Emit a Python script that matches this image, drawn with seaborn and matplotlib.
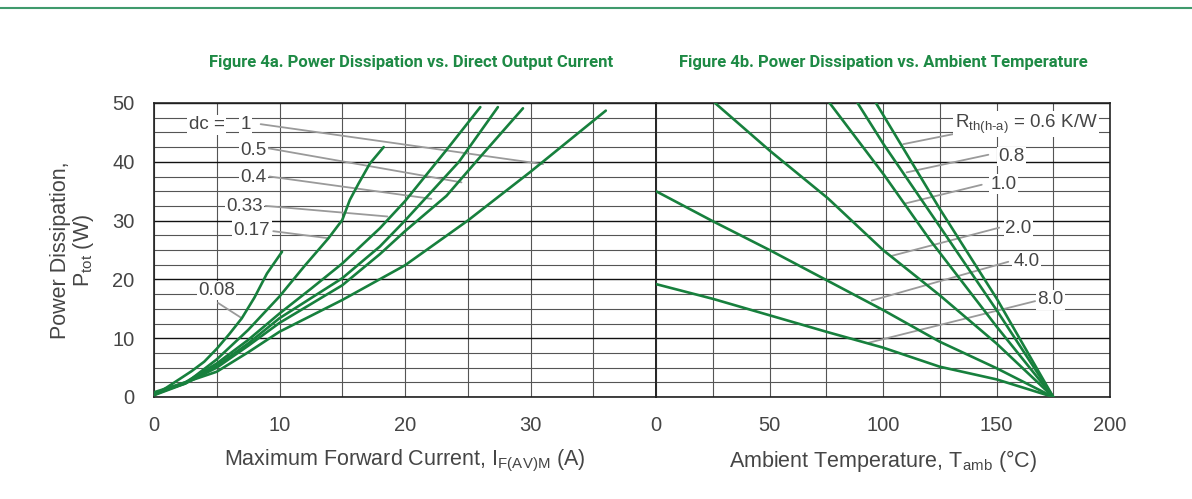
import numpy as np
import pandas as pd
import matplotlib
matplotlib.use("Agg")
import matplotlib.pyplot as plt
import seaborn as sns
from matplotlib.lines import Line2D

# ---------------- Figure 4a: P_tot (W) vs I_F(AV)M (A), per duty cycle ----------------
dc_labels = ["0.08", "0.17", "0.33", "0.4", "0.5", "1"]
i_008 = [0, 1, 2, 3, 4, 5, 6, 7, 8, 9, 10.2]
p_008 = [0.3, 1.6, 3.0, 4.4, 6.0, 8.2, 10.7, 13.4, 16.9, 21.0, 24.7]
i_017 = [0, 2.5, 5, 7.5, 10, 12, 13.9, 15, 15.6, 16.3, 17.2, 18.3]
p_017 = [0.3, 2.3, 6.4, 11.4, 17.1, 22.3, 27.0, 30.1, 33.5, 36.3, 39.7, 42.5]
i_033 = [0, 2.5, 5, 7.5, 10, 12.5, 15, 18, 20, 23.3, 26]
p_033 = [0.5, 2.5, 5.7, 9.7, 14.2, 18.4, 22.7, 28.7, 33.3, 42.0, 49.3]
i_04 = [0, 2.5, 5, 7.5, 10, 12.5, 15, 18, 20, 24.3, 27.4]
p_04 = [0.4, 2.4, 5.3, 9.1, 13.4, 16.8, 20.2, 25.6, 30.0, 40.0, 49.3]
i_05 = [0, 2.5, 5, 7.5, 10, 12.5, 15, 18, 20, 23.3, 25.9, 29.4]
p_05 = [0.6, 2.3, 5.0, 8.7, 12.6, 15.8, 19.0, 24.3, 28.2, 34.2, 40.6, 49.1]
i_1 = [0, 2.5, 5, 7.5, 10, 15, 20, 25, 30, 36]
p_1 = [0.8, 2.5, 4.3, 7.6, 11.1, 16.5, 22.4, 30.0, 38.3, 48.7]

# ---------------- Figure 4b: P_tot (W) vs T_amb (degC), per R_th(h-a) ----------------
rth_labels = ["0.6", "0.8", "1.0", "2.0", "4.0", "8.0"]
t_06 = [96.9, 125, 150, 175]
p_06 = [50, 32.0, 16.8, 0]
t_08 = [88.8, 100.4, 125, 150, 175]
p_08 = [50, 42.9, 29.0, 14.8, 0]
t_10 = [76.5, 100.4, 120.7, 150, 175]
p_10 = [50, 37.8, 26.7, 12.0, 0]
t_20 = [26, 50.4, 75.7, 100, 125, 150, 175]
p_20 = [50, 41.8, 33.8, 25.0, 17.3, 9.1, 0]
t_40 = [0, 25, 50, 75, 100, 125, 150, 175]
p_40 = [35, 29.9, 25.0, 19.9, 14.8, 9.4, 4.9, 0]
t_80 = [0, 25, 50, 75, 100, 125, 150, 175]
p_80 = [19.2, 16.7, 13.9, 11.1, 8.4, 5.15, 3.0, 0]

# tick labels
y_ticks = [0, 10, 20, 30, 40, 50]
xa_ticks = [0, 10, 20, 30]
xb_ticks = [0, 50, 100, 150, 200]

left_curves = list(zip(dc_labels, [i_008, i_017, i_033, i_04, i_05, i_1],
                       [p_008, p_017, p_033, p_04, p_05, p_1]))
right_curves = list(zip(rth_labels, [t_06, t_08, t_10, t_20, t_40, t_80],
                        [p_06, p_08, p_10, p_20, p_40, p_80]))

df_a = pd.concat([pd.DataFrame({"x": x, "y": y, "s": lab}) for lab, x, y in left_curves])
df_b = pd.concat([pd.DataFrame({"x": x, "y": y, "s": lab}) for lab, x, y in right_curves])

sns.set_theme(style="white")
FONT = ["Liberation Sans", "DejaVu Sans"]
plt.rcParams["font.family"] = FONT
plt.rcParams["mathtext.default"] = "regular"

GREEN = "#17803d"
TXT = "#454545"
LEAD = "#9a9a9a"

fig = plt.figure(figsize=(11.92, 4.99), dpi=100)
bottom = 1 - 397 / 499
height = 294 / 499
ax1 = fig.add_axes([154 / 1192, bottom, 502 / 1192, height])
ax2 = fig.add_axes([656 / 1192, bottom, 454 / 1192, height])

for ax, df in [(ax1, df_a), (ax2, df_b)]:
    sns.lineplot(data=df, x="x", y="y", units="s", estimator=None, sort=False,
                 color=GREEN, lw=1.9, ax=ax, zorder=5, legend=False)

def style(ax, xmax, xstep, xticks, showy):
    ax.set_xlim(0, xmax)
    ax.set_ylim(0, 50)
    ax.set_xticks(xticks)
    ax.set_xticks(np.arange(0, xmax + 0.01, xstep), minor=True)
    ax.set_yticks(y_ticks)
    ax.set_yticks(np.arange(0, 50.01, 2.5), minor=True)
    ax.grid(which="minor", color="#555555", lw=0.8, zorder=0)
    ax.grid(which="major", axis="y", color="#111111", lw=1.0, zorder=0)
    ax.grid(which="major", axis="x", color="#555555", lw=0.8, zorder=0)
    ax.set_axisbelow(True)
    ax.tick_params(which="both", length=0)
    ax.tick_params(axis="x", pad=14, labelsize=14.5, labelcolor=TXT)
    ax.tick_params(axis="y", pad=14, labelsize=14.5, labelcolor=TXT)
    if not showy:
        ax.set_yticklabels([])
    for sp in ax.spines.values():
        sp.set_visible(True)
        sp.set_color("#222222")
        sp.set_linewidth(1.2)
    ax.set_xlabel("")
    ax.set_ylabel("")

style(ax1, 40, 5, xa_ticks, True)
style(ax2, 200, 25, xb_ticks, False)

ax1.set_xlabel("Maximum Forward Current, I$_{F(AV)M}$ (A)", fontsize=15.5,
               color=TXT, labelpad=9)
ax2.set_xlabel("Ambient Temperature, T$_{amb}$ (°C)", fontsize=15.5,
               color=TXT, labelpad=9)
ax1.set_ylabel("Power Dissipation,\nP$_{tot}$ (W)", fontsize=15.5, color=TXT,
               labelpad=12, linespacing=1.0)

box = dict(fc="white", ec="none", pad=1.0)

def leader(ax, p0, p1):
    ax.plot([p0[0], p1[0]], [p0[1], p1[1]], color=LEAD, lw=1.3, zorder=3)

def label(ax, x, y, s, ha="center"):
    ax.text(x, y, s, ha=ha, va="center", fontsize=13.5, color=TXT,
            bbox=box, zorder=4)

# Figure 4a annotations
label(ax1, 4.2, 46.3, "dc =")
label(ax1, 7.3, 46.4, dc_labels[5])
leader(ax1, (8.5, 46.4), (31.0, 39.6))
label(ax1, 7.9, 42.0, dc_labels[4])
leader(ax1, (9.1, 42.3), (24.5, 36.5))
label(ax1, 7.9, 37.3, dc_labels[3])
leader(ax1, (9.2, 37.5), (22.1, 33.7))
label(ax1, 7.2, 32.4, dc_labels[2])
leader(ax1, (8.9, 32.5), (18.6, 30.7))
label(ax1, 7.8, 28.4, dc_labels[1])
leader(ax1, (9.5, 28.2), (13.9, 27.0))
label(ax1, 5.0, 18.1, dc_labels[0])
leader(ax1, (5.1, 16.0), (7.0, 13.4))

# Figure 4b annotations
leader(ax2, (134.7, 45.0), (108.9, 43.0))
label(ax2, 131.5, 46.4, "R$_{th(h\u2010a)}$ = " + rth_labels[0] + " K/W", ha="left")
label(ax2, 156.7, 40.9, rth_labels[1])
leader(ax2, (146.4, 41.2), (110.4, 38.2))
label(ax2, 153.0, 36.2, rth_labels[2])
leader(ax2, (143.5, 36.1), (109.7, 32.9))
label(ax2, 159.6, 28.7, rth_labels[3])
leader(ax2, (151.2, 28.8), (103.8, 24.0))
label(ax2, 163.3, 23.0, rth_labels[4])
leader(ax2, (155.2, 23.0), (95.0, 16.4))
label(ax2, 173.6, 16.5, rth_labels[5])
leader(ax2, (167.0, 16.3), (93.4, 9.2))

# Titles
TFONT = ["Liberation Sans Narrow", "Roboto", "DejaVu Sans"]
fig.text(411 / 1192, 1 - 62 / 499, "Figure 4a. Power Dissipation vs. Direct Output Current",
         ha="center", va="center", fontsize=12, fontweight="bold", color="#1e8a45",
         family=TFONT)
fig.text(883 / 1192, 1 - 62 / 499, "Figure 4b. Power Dissipation vs. Ambient Temperature",
         ha="center", va="center", fontsize=12, fontweight="bold", color="#1e8a45",
         family=TFONT)

# top rule
fig.add_artist(Line2D([0, 1], [1 - 7.5 / 499, 1 - 7.5 / 499], color="#3f9a6c", lw=1.5,
                      transform=fig.transFigure))

fig.savefig("out.png", dpi=100, facecolor="white")
